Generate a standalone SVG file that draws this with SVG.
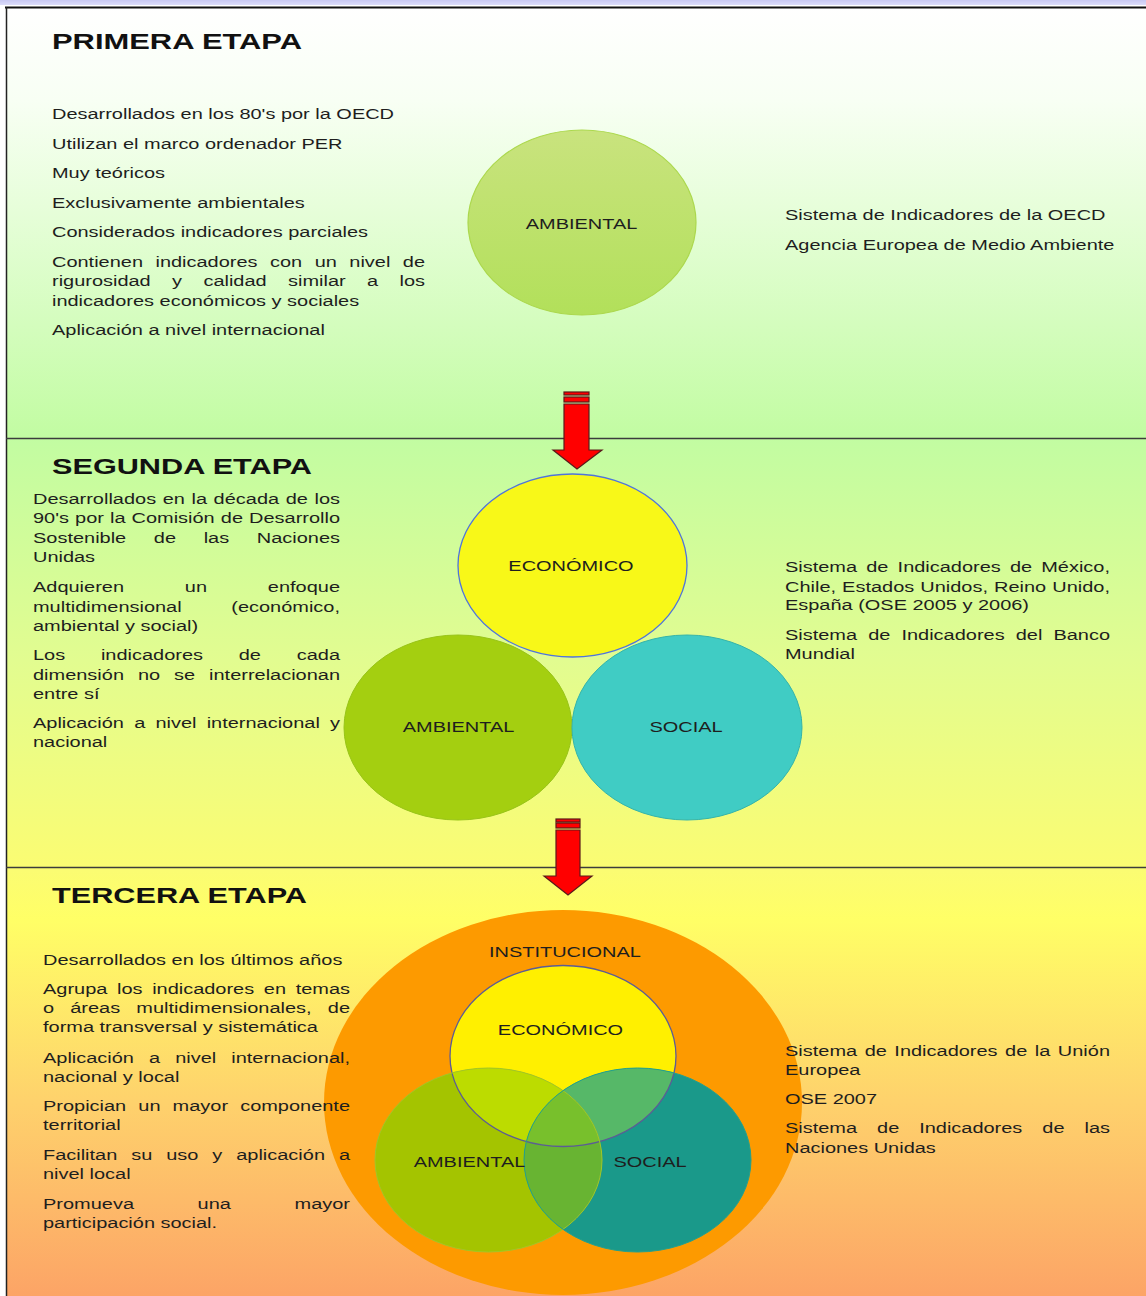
<svg xmlns="http://www.w3.org/2000/svg" width="1146" height="1296" viewBox="0 0 1146 1296">
  <defs>
    <style>
      .t { font-family: "Liberation Sans", Arial, sans-serif; font-size: 15.5px; fill: #1e1e1e; }
      .c { text-anchor: middle; }
      .h { font-family: "Liberation Sans", Arial, sans-serif; font-weight: bold; font-size: 22px; fill: #111111; }
      .divider { stroke: #3c3c3c; stroke-width: 1.5; }
      .arrow { fill: #ff0000; stroke: #5a1a1a; stroke-width: 1.2; stroke-linejoin: miter; }
    </style>
    <linearGradient id="bg" gradientUnits="userSpaceOnUse" x1="0" y1="7" x2="0" y2="1296">
      <stop offset="0" stop-color="#ffffff"/>
      <stop offset="0.072" stop-color="#f8fff4"/>
      <stop offset="0.334" stop-color="#c2fca2"/>
      <stop offset="0.507" stop-color="#e2fc90"/>
      <stop offset="0.67" stop-color="#fbfc72"/>
      <stop offset="0.708" stop-color="#ffff66"/>
      <stop offset="0.848" stop-color="#fed26c"/>
      <stop offset="1" stop-color="#fca466"/>
    </linearGradient>
    <linearGradient id="topband" x1="0" y1="0" x2="0" y2="1">
      <stop offset="0" stop-color="#c8c8f2"/>
      <stop offset="1" stop-color="#dcdcfa"/>
    </linearGradient>
    <linearGradient id="amb1" x1="0" y1="0" x2="0" y2="1">
      <stop offset="0" stop-color="#c9e37e"/>
      <stop offset="1" stop-color="#b2e05a"/>
    </linearGradient>
    <clipPath id="clipEco"><ellipse cx="563" cy="1056" rx="113" ry="90.5"/></clipPath>
    <clipPath id="clipAmb"><ellipse cx="488.5" cy="1160" rx="113.5" ry="92"/></clipPath>
  </defs>

  <!-- page background and frame -->
  <rect x="0" y="0" width="1146" height="1296" fill="#ffffff"/>
  <rect x="0" y="0" width="1146" height="5" fill="url(#topband)"/>
  <rect x="6" y="7" width="1140" height="1289" fill="url(#bg)"/>
  <line x1="5" y1="7.5" x2="1146" y2="7.5" stroke="#111" stroke-width="2"/>
  <line x1="6.5" y1="7" x2="6.5" y2="1296" stroke="#222" stroke-width="1.5"/>
  <line class="divider" x1="6" y1="438.5" x2="1146" y2="438.5"/>
  <line class="divider" x1="6" y1="867.5" x2="1146" y2="867.5"/>

  <!-- stage 1 -->
  <g id="stage1-title">
    <text class="h" x="52" y="49" textLength="250" lengthAdjust="spacingAndGlyphs">PRIMERA ETAPA</text>
  </g>
  <g id="stage1-features" class="t" transform="scale(1.288 1)">
    <text x="40.37" y="119">Desarrollados en los 80's por la OECD</text>
    <text x="40.37" y="149">Utilizan el marco ordenador PER</text>
    <text x="40.37" y="178">Muy teóricos</text>
    <text x="40.37" y="208">Exclusivamente ambientales</text>
    <text x="40.37" y="237">Considerados indicadores parciales</text>
    <text x="40.37" y="267" word-spacing="5.37" textLength="289.6" lengthAdjust="spacing">Contienen indicadores con un nivel de</text>
    <text x="40.37" y="286.5" word-spacing="12.27" textLength="289.6" lengthAdjust="spacing">rigurosidad y calidad similar a los</text>
    <text x="40.37" y="306">indicadores económicos y sociales</text>
    <text x="40.37" y="335">Aplicación a nivel internacional</text>
  </g>
  <g id="stage1-ambiental">
    <ellipse cx="582" cy="222.5" rx="114" ry="92.5" fill="url(#amb1)" stroke="#acd84e" stroke-width="1.2"/>
    <text class="t c" transform="scale(1.288 1)" x="451.5" y="229">AMBIENTAL</text>
  </g>
  <g id="stage1-systems" class="t" transform="scale(1.288 1)">
    <text x="609.47" y="220.5">Sistema de Indicadores de la OECD</text>
    <text x="609.47" y="250.5">Agencia Europea de Medio Ambiente</text>
  </g>

  <!-- stage 2 -->
  <g id="stage2-title">
    <text class="h" x="52" y="473.5" textLength="260" lengthAdjust="spacingAndGlyphs">SEGUNDA ETAPA</text>
  </g>
  <g id="stage2-features" class="t" transform="scale(1.288 1)">
    <text x="25.62" y="504" word-spacing="0.81" textLength="238.35" lengthAdjust="spacing">Desarrollados en la década de los</text>
    <text x="25.62" y="523.5" word-spacing="0.4" textLength="238.35" lengthAdjust="spacing">90's por la Comisión de Desarrollo</text>
    <text x="25.62" y="543" word-spacing="17.13" textLength="238.35" lengthAdjust="spacing">Sostenible de las Naciones</text>
    <text x="25.62" y="562.5">Unidas</text>
    <text x="25.62" y="592.5" word-spacing="42.9" textLength="238.35" lengthAdjust="spacing">Adquieren un enfoque</text>
    <text x="25.62" y="612" word-spacing="34.2" textLength="238.35" lengthAdjust="spacing">multidimensional (económico,</text>
    <text x="25.62" y="631.5">ambiental y social)</text>
    <text x="25.62" y="660.5" word-spacing="23.4" textLength="238.35" lengthAdjust="spacing">Los indicadores de cada</text>
    <text x="25.62" y="680" word-spacing="6.5" textLength="238.35" lengthAdjust="spacing">dimensión no se interrelacionan</text>
    <text x="25.62" y="699">entre sí</text>
    <text x="25.62" y="728" word-spacing="3.6" textLength="238.35" lengthAdjust="spacing">Aplicación a nivel internacional y</text>
    <text x="25.62" y="747">nacional</text>
  </g>
  <g id="stage2-ambiental">
    <ellipse cx="458" cy="727.5" rx="114" ry="92.5" fill="#a4cf10" stroke="#98c418" stroke-width="1"/>
    <text class="t c" transform="scale(1.288 1)" x="356" y="732">AMBIENTAL</text>
  </g>
  <g id="stage2-social">
    <ellipse cx="687" cy="727.5" rx="115" ry="92.5" fill="#40ccc4" stroke="#34b4aa" stroke-width="1"/>
    <text class="t c" transform="scale(1.288 1)" x="532.6" y="732">SOCIAL</text>
  </g>
  <g id="stage2-economico">
    <ellipse cx="572.5" cy="565.5" rx="114.5" ry="91.5" fill="#f8f818" stroke="#4f74dc" stroke-width="1.3"/>
    <text class="t c" transform="scale(1.288 1)" x="443.3" y="571.5">ECONÓMICO</text>
  </g>
  <g id="stage2-systems" class="t" transform="scale(1.288 1)">
    <text x="609.47" y="572.5" word-spacing="2.8" textLength="252.33" lengthAdjust="spacing">Sistema de Indicadores de México,</text>
    <text x="609.47" y="591.5" word-spacing="0.4" textLength="252.33" lengthAdjust="spacing">Chile, Estados Unidos, Reino Unido,</text>
    <text x="609.47" y="610.5">España (OSE 2005 y 2006)</text>
    <text x="609.47" y="640" word-spacing="4.3" textLength="252.33" lengthAdjust="spacing">Sistema de Indicadores del Banco</text>
    <text x="609.47" y="659">Mundial</text>
  </g>

  <!-- stage 3 -->
  <g id="stage3-title">
    <text class="h" x="52" y="903" textLength="255" lengthAdjust="spacingAndGlyphs">TERCERA ETAPA</text>
  </g>
  <g id="stage3-institucional">
    <ellipse cx="563" cy="1102.5" rx="239" ry="192.5" fill="#fd9a00"/>
    <text class="t c" transform="scale(1.288 1)" x="438.66" y="957">INSTITUCIONAL</text>
  </g>
  <g id="stage3-features" class="t" transform="scale(1.288 1)">
    <text x="33.39" y="965">Desarrollados en los últimos años</text>
    <text x="33.39" y="994" word-spacing="3.2" textLength="238.35" lengthAdjust="spacing">Agrupa los indicadores en temas</text>
    <text x="33.39" y="1013.5" word-spacing="8.25" textLength="238.35" lengthAdjust="spacing">o áreas multidimensionales, de</text>
    <text x="33.39" y="1032.5">forma transversal y sistemática</text>
    <text x="33.39" y="1063" word-spacing="7.4" textLength="238.35" lengthAdjust="spacing">Aplicación a nivel internacional,</text>
    <text x="33.39" y="1082">nacional y local</text>
    <text x="33.39" y="1111.5" word-spacing="5.1" textLength="238.35" lengthAdjust="spacing">Propician un mayor componente</text>
    <text x="33.39" y="1130.5">territorial</text>
    <text x="33.39" y="1160.5" word-spacing="6.5" textLength="238.35" lengthAdjust="spacing">Facilitan su uso y aplicación a</text>
    <text x="33.39" y="1179.5">nivel local</text>
    <text x="33.39" y="1209" word-spacing="45.1" textLength="238.35" lengthAdjust="spacing">Promueva una mayor</text>
    <text x="33.39" y="1228">participación social.</text>
  </g>
  <g id="stage3-venn">
    <g id="stage3-economico">
      <ellipse cx="563" cy="1056" rx="113" ry="90.5" fill="#fff000"/>
    </g>
    <g id="stage3-ambiental">
      <ellipse cx="488.5" cy="1160" rx="113.5" ry="92" fill="#a4c400"/>
    </g>
    <g id="stage3-social">
      <ellipse cx="637.5" cy="1160" rx="113.5" ry="92" fill="#1a998a"/>
    </g>
    <!-- overlap tints -->
    <g clip-path="url(#clipEco)">
      <ellipse cx="488.5" cy="1160" rx="113.5" ry="92" fill="#bcdc00"/>
      <ellipse cx="637.5" cy="1160" rx="113.5" ry="92" fill="#56b868"/>
    </g>
    <g clip-path="url(#clipAmb)">
      <ellipse cx="637.5" cy="1160" rx="113.5" ry="92" fill="#68b432"/>
    </g>
    <g clip-path="url(#clipEco)">
      <g clip-path="url(#clipAmb)">
        <ellipse cx="637.5" cy="1160" rx="113.5" ry="92" fill="#78c02c"/>
      </g>
    </g>
    <!-- outlines -->
    <ellipse cx="563" cy="1056" rx="113" ry="90.5" fill="none" stroke="#5c5c96" stroke-width="1.3"/>
    <ellipse cx="488.5" cy="1160" rx="113.5" ry="92" fill="none" stroke="#a2c628" stroke-width="1"/>
    <ellipse cx="637.5" cy="1160" rx="113.5" ry="92" fill="none" stroke="#22a08e" stroke-width="1"/>
    <g class="t c" transform="scale(1.288 1)">
      <text x="435.17" y="1035">ECONÓMICO</text>
      <text x="364.52" y="1167.5">AMBIENTAL</text>
      <text x="504.66" y="1167.5">SOCIAL</text>
    </g>
  </g>
  <g id="stage3-systems" class="t" transform="scale(1.288 1)">
    <text x="609.47" y="1056.5" word-spacing="1.5" textLength="252.33" lengthAdjust="spacing">Sistema de Indicadores de la Unión</text>
    <text x="609.47" y="1075.5">Europea</text>
    <text x="609.47" y="1104.5">OSE 2007</text>
    <text x="609.47" y="1133.5" word-spacing="11.2" textLength="252.33" lengthAdjust="spacing">Sistema de Indicadores de las</text>
    <text x="609.47" y="1153">Naciones Unidas</text>
  </g>

  <!-- stage transitions -->
  <g id="connectors">
    <g id="arrow-1-2">
      <rect class="arrow" x="564" y="392" width="25" height="3"/>
      <rect class="arrow" x="564" y="397" width="25" height="5"/>
      <polygon class="arrow" points="564,404 589,404 589,450 602,450 577,469 553,450 564,450"/>
    </g>
    <g id="arrow-2-3">
      <rect class="arrow" x="556" y="819" width="24" height="3"/>
      <rect class="arrow" x="556" y="823" width="24" height="5"/>
      <polygon class="arrow" points="556,830 580,830 580,876 592,876 568,895 544,876 556,876"/>
    </g>
  </g>
</svg>
